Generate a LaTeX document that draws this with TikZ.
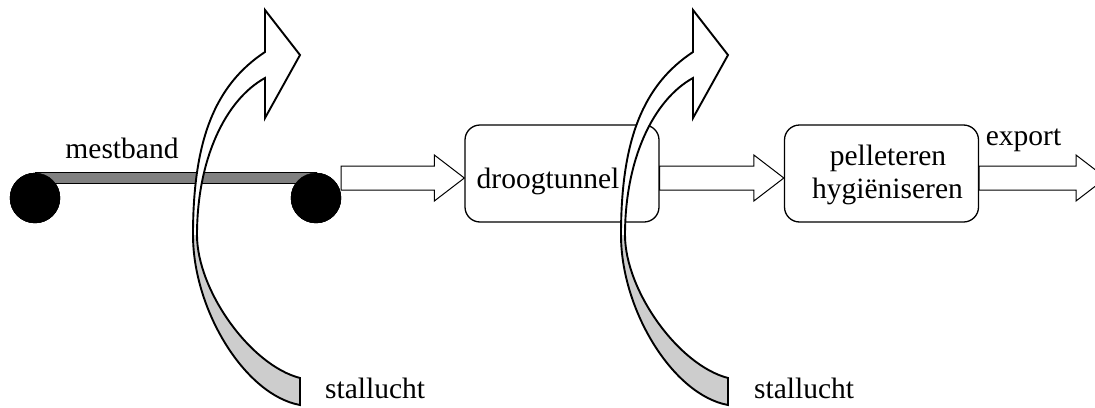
\documentclass[tikz,border=0pt]{standalone}
\usepackage{fontspec}
\setmainfont{Liberation Serif}
\usetikzlibrary{calc}
\definecolor{beltgray}{RGB}{128,128,128}
\definecolor{backgray}{RGB}{205,205,205}
\tikzset{
  box/.style={draw, line width=1.3pt, rounded corners=15pt, minimum width=194pt, minimum height=97pt, inner sep=0pt},
  lbl/.style={anchor=base, inner sep=0pt, font=\fontsize{29.5}{34}\selectfont},
  roller/.style={circle, fill=black, draw=black, minimum size=50pt, inner sep=0pt},
  beltstyle/.style={draw=black, fill=beltgray, line width=1pt},
  flat/.style={draw, fill=white, line width=1pt, line join=miter},
  curvy/.style={draw=black, line width=1.9pt, line join=miter},
  stall/.pic={
    \fill[white] (265,78) -- (265,118) -- (300,55) -- (265,10) -- (265,52)
      .. controls (215,85) and (193,140) .. (193,235) -- (197,235)
      .. controls (197,160) and (225,100) .. (265,78) -- cycle;
    \fill[backgray] (193,235) .. controls (193,310) and (245,395) .. (300,405)
      -- (300,378) .. controls (250,365) and (197,290) .. (197,235) -- cycle;
    \draw[curvy] (265,78) -- (265,118) -- (300,55) -- (265,10) -- (265,52)
      .. controls (215,85) and (193,140) .. (193,235)
      .. controls (193,310) and (245,395) .. (300,405)
      -- (300,378) .. controls (250,365) and (197,290) .. (197,235)
      .. controls (197,160) and (225,100) .. (265,78) -- cycle;
  }
}
\newcommand\flatarrow[2]{%
  \draw[flat] let \p1=(#1), \p2=(#2) in
    (\x1,\y1+12pt) -- (\x2-30pt,\y1+12pt) -- (\x2-30pt,\y1+23pt) -- (\x2,\y1)
    -- (\x2-30pt,\y1-23pt) -- (\x2-30pt,\y1-12pt) -- (\x1,\y1-12pt) -- cycle;}
\begin{document}
\begin{tikzpicture}[x=1pt, y=-1pt]
  \useasboundingbox (0,0) rectangle (1095,407);
  \clip (0,0) rectangle (1095,407);
  \coordinate (lvl) at (0,178);
  % belt
  \node[roller] (r1) at (35,198) {};
  \node[roller] (r2) at (316,198) {};
  \draw[beltstyle] (r1.north) rectangle ($(r2.center)+(0,-15)$);
  \node[roller] at (r1) {};
  \node[roller] at (r2) {};
  \node[lbl] (mest) at (122,158) {mestband};
  % boxes
  \node[box] (droog) at (562,173.5) {};
  \node[box] (pel) at (881.5,173.5) {};
  \node[lbl] (droogt) at (548,188) {droogtunnel};
  \node[lbl] (pelt) at (888,165) {pelleteren};
  \node[lbl] (hygt) at (887.5,198) {hygiëniseren};
  \coordinate (exp) at (1106,178);
  % flat arrows
  \flatarrow{r2.east |- lvl}{droog.west |- lvl}
  \flatarrow{droog.east |- lvl}{pel.west |- lvl}
  \flatarrow{pel.east |- lvl}{exp}
  \node[lbl] (expt) at (1023.5,145) {export};
  % curved air arrows
  \pic at (0,0) {stall};
  \pic at (428,0) {stall};
  \node[lbl, anchor=base west] (st1) at (325,398) {stallucht};
  \node[lbl, anchor=base west] (st2) at (754,398) {stallucht};
\end{tikzpicture}
\end{document}
